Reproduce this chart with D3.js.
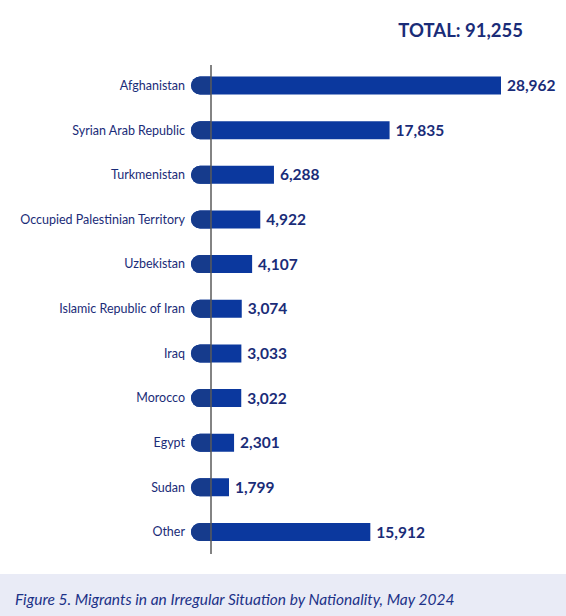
<!DOCTYPE html>
<html>
<head>
<meta charset="utf-8">
<script src="https://cdn.jsdelivr.net/npm/d3@7"></script>
<style>
  body { margin: 0; background: #fff; }
  svg { display: block; font-family: Lato, "Open Sans", sans-serif; }
</style>
</head>
<body>
<svg id="chart" width="566" height="616"></svg>
<script>
// data
var countries = ["Afghanistan", "Syrian Arab Republic", "Turkmenistan", "Occupied Palestinian Territory",
  "Uzbekistan", "Islamic Republic of Iran", "Iraq", "Morocco", "Egypt", "Sudan", "Other"];
var migrants = [28962, 17835, 6288, 4922, 4107, 3074, 3033, 3022, 2301, 1799, 15912];
var totalLabel = "TOTAL: 91,255";
var caption = "Figure 5. Migrants in an Irregular Situation by Nationality, May 2024";

var W = 566, H = 616;
var barH = 18, capW = 20, r = 9;
var navy = "#1a2c78", barColor = "#0b389e", capColor = "#163b8c";

var svg = d3.select("#chart");

var x = d3.scaleLinear()
  .domain([0, d3.max(migrants)])
  .range([211, 501]);

var y = d3.scalePoint()
  .domain(countries)
  .range([85.5, 532]);

var rows = countries.map(function(c, i){ return {name: c, value: migrants[i]}; });

// total
svg.append("text")
  .attr("x", 523).attr("y", 37)
  .attr("text-anchor", "end")
  .attr("font-size", 18.5).attr("font-weight", 700)
  .attr("fill", navy)
  .text(totalLabel);

var g = svg.selectAll("g.row")
  .data(rows)
  .enter().append("g")
  .attr("class", "row")
  .attr("transform", function(d){ return "translate(0," + y(d.name) + ")"; });

// bar body with rounded left end
g.append("path")
  .attr("fill", barColor)
  .attr("d", function(d){
    var x0 = x(0) - capW, x1 = x(d.value);
    return "M" + x1 + "," + (-barH/2) + "H" + (x0 + r) +
      "A" + r + "," + r + " 0 0 0 " + (x0 + r) + "," + (barH/2) +
      "H" + x1 + "Z";
  });

// darker cap left of the axis
g.append("path")
  .attr("fill", capColor)
  .attr("d", function(){
    var x0 = x(0) - capW, x1 = x(0);
    return "M" + x1 + "," + (-barH/2) + "H" + (x0 + r) +
      "A" + r + "," + r + " 0 0 0 " + (x0 + r) + "," + (barH/2) +
      "H" + x1 + "Z";
  });

g.append("text")
  .attr("x", x(0) - capW - 6)
  .attr("dy", "0.35em")
  .attr("text-anchor", "end")
  .attr("font-size", 12.5)
  .attr("fill", navy)
  .text(function(d){ return d.name; });

g.append("text")
  .attr("x", function(d){ return x(d.value) + 6; })
  .attr("dy", "0.36em")
  .attr("font-size", 15.5).attr("font-weight", 700)
  .attr("fill", navy)
  .text(function(d){ return d3.format(",")(d.value); });

// vertical axis line
svg.append("line")
  .attr("x1", x(0)).attr("x2", x(0))
  .attr("y1", 65).attr("y2", 554)
  .attr("stroke", "#5a5a5a").attr("stroke-width", 1.5);

// caption band
svg.append("rect")
  .attr("x", 0).attr("y", 574)
  .attr("width", W).attr("height", H - 574)
  .attr("fill", "#e9ebf6");

svg.append("text")
  .attr("x", 15).attr("y", 605)
  .attr("font-size", 15.5).attr("font-style", "italic")
  .attr("fill", "#1c3288")
  .text(caption);
</script>
</body>
</html>
